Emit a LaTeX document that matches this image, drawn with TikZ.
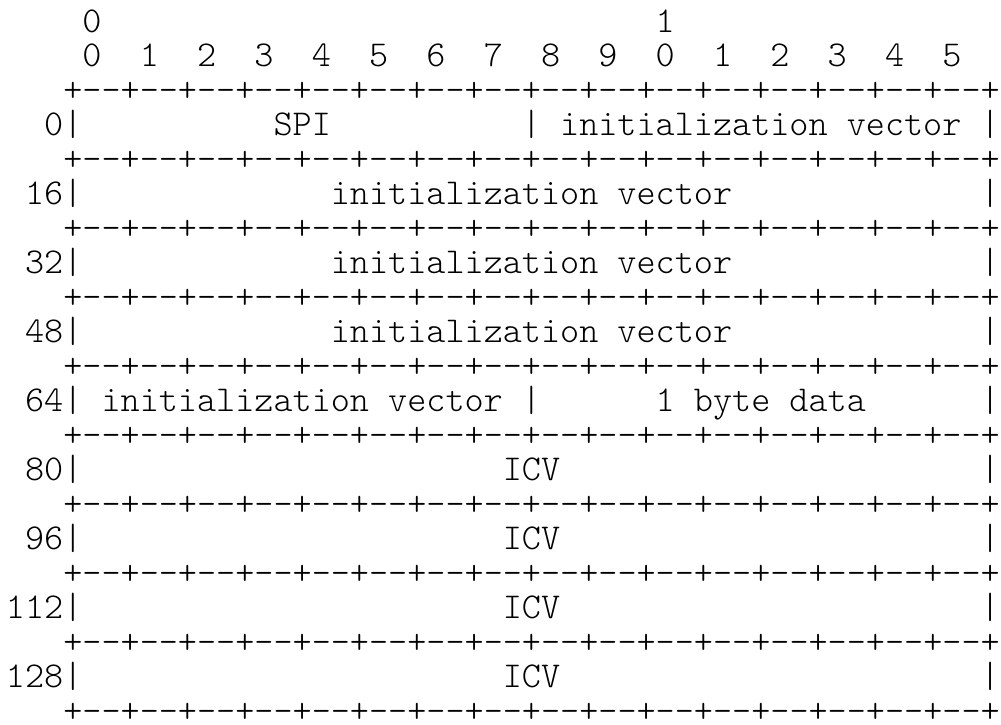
\documentclass[tikz,border=0pt]{standalone}
% one character cell is 19.11pt wide: size the typewriter font to fit
\newlength\cw
\settowidth\cw{\ttfamily\fontseries{l}\fontsize{10}{12}\selectfont 0}
\edef\ttsize{\the\dimexpr10pt*1252393/\numexpr\cw\relax\relax}
\newcommand{\gap}[1]{\hspace*{#1\fontdimen2\font}}
\newcommand{\sepline}{\foreach \i in {1,...,16}{+-\kern0pt-}+}

\begin{document}
\begin{tikzpicture}[x=19.11pt,y=-34.5pt,
                    every node/.style={inner sep=0pt,anchor=base west,
                      font=\ttfamily\fontseries{l}\fontsize{\ttsize}{34.5pt}\selectfont}]
  \useasboundingbox (-5.8pt,32pt) rectangle ++(1001pt,-724pt);

  \node (top)  at (4,0)  {0\gap{29}1};
  \node (bits) at (4,1)  {0\gap{2}1\gap{2}2\gap{2}3\gap{2}4\gap{2}5\gap{2}6\gap{2}7\gap{2}8\gap{2}9\gap{2}0\gap{2}1\gap{2}2\gap{2}3\gap{2}4\gap{2}5};

  \node (s0)   at (3,2)  {\sepline};
  \node (r0)   at (0,3)  {\gap{2}0|\gap{10}SPI\gap{10}|\gap{1}initialization vector\gap{1}|};
  \node (s1)   at (3,4)  {\sepline};
  \node (r16)  at (0,5)  {\gap{1}16|\gap{13}initialization vector\gap{13}|};
  \node (s2)   at (3,6)  {\sepline};
  \node (r32)  at (0,7)  {\gap{1}32|\gap{13}initialization vector\gap{13}|};
  \node (s3)   at (3,8)  {\sepline};
  \node (r48)  at (0,9)  {\gap{1}48|\gap{13}initialization vector\gap{13}|};
  \node (s4)   at (3,10) {\sepline};
  \node (r64)  at (0,11) {\gap{1}64|\gap{1}initialization vector\gap{1}|\gap{6}1 byte data\gap{6}|};
  \node (s5)   at (3,12) {\sepline};
  \node (r80)  at (0,13) {\gap{1}80|\gap{22}ICV\gap{22}|};
  \node (s6)   at (3,14) {\sepline};
  \node (r96)  at (0,15) {\gap{1}96|\gap{22}ICV\gap{22}|};
  \node (s7)   at (3,16) {\sepline};
  \node (r112) at (0,17) {112|\gap{22}ICV\gap{22}|};
  \node (s8)   at (3,18) {\sepline};
  \node (r128) at (0,19) {128|\gap{22}ICV\gap{22}|};
  \node (s9)   at (3,20) {\sepline};
\end{tikzpicture}
\end{document}
